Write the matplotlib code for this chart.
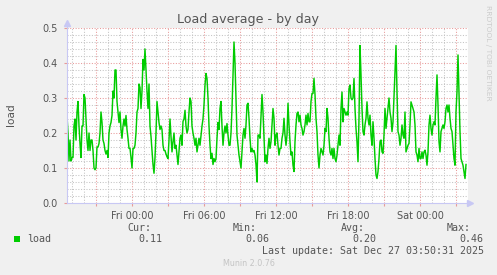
import matplotlib
matplotlib.use("Agg")
import matplotlib.pyplot as plt
import matplotlib.dates as mdates
from matplotlib.ticker import MultipleLocator
from matplotlib.patches import Rectangle
import pandas as pd
import numpy as np

# ---------------- data ----------------
series_name = "load"
start_time = "2025-12-25 18:35"
step = "5min"
load = [
    0.25,0.20,0.12,0.18,0.12,0.13,0.13,0.22,0.24,0.18,
    0.26,0.29,0.22,0.17,0.13,0.22,0.22,0.31,0.30,0.24,
    0.18,0.15,0.20,0.15,0.18,0.18,0.15,0.10,0.095,0.10,
    0.16,0.16,0.17,0.20,0.26,0.23,0.18,0.17,0.15,0.14,
    0.15,0.13,0.20,0.22,0.23,0.25,0.32,0.30,0.38,0.38,
    0.29,0.26,0.23,0.26,0.21,0.185,0.22,0.24,0.22,0.25,
    0.21,0.185,0.156,0.156,0.13,0.10,0.156,0.156,0.165,0.20,
    0.26,0.27,0.34,0.33,0.27,0.32,0.41,0.38,0.44,0.38,
    0.32,0.27,0.34,0.22,0.19,0.15,0.11,0.085,0.13,0.20,
    0.29,0.26,0.23,0.21,0.22,0.21,0.165,0.15,0.15,0.14,
    0.132,0.127,0.18,0.24,0.19,0.146,0.175,0.20,0.156,0.165,
    0.137,0.11,0.146,0.185,0.194,0.165,0.233,0.24,0.265,0.22,
    0.20,0.21,0.26,0.30,0.29,0.22,0.20,0.185,0.165,0.185,
    0.146,0.165,0.185,0.165,0.194,0.22,0.24,0.28,0.337,0.37,
    0.356,0.30,0.22,0.165,0.127,0.142,0.11,0.127,0.118,0.127,
    0.185,0.23,0.21,0.27,0.29,0.22,0.165,0.20,0.22,0.20,
    0.227,0.194,0.165,0.165,0.20,0.27,0.366,0.46,0.40,0.30,
    0.194,0.165,0.137,0.118,0.10,0.146,0.194,0.213,0.185,0.223,
    0.28,0.285,0.242,0.185,0.146,0.156,0.146,0.15,0.137,0.11,
    0.06,0.194,0.194,0.185,0.25,0.31,0.26,0.185,0.118,0.137,
    0.113,0.156,0.185,0.156,0.175,0.22,0.27,0.242,0.165,0.194,
    0.20,0.165,0.137,0.156,0.156,0.185,0.20,0.242,0.194,0.165,
    0.194,0.285,0.223,0.175,0.137,0.146,0.108,0.09,0.175,0.223,
    0.256,0.26,0.232,0.251,0.223,0.213,0.194,0.204,0.223,0.251,
    0.223,0.256,0.232,0.232,0.29,0.313,0.313,0.356,0.31,0.242,
    0.204,0.137,0.10,0.137,0.156,0.146,0.137,0.165,0.213,0.204,
    0.27,0.242,0.185,0.146,0.137,0.156,0.127,0.156,0.127,0.118,
    0.137,0.165,0.194,0.165,0.27,0.317,0.232,0.27,0.26,0.251,
    0.26,0.251,0.327,0.337,0.30,0.295,0.30,0.356,0.27,0.213,
    0.175,0.118,0.242,0.45,0.366,0.27,0.204,0.194,0.223,0.242,
    0.289,0.242,0.223,0.251,0.194,0.165,0.232,0.185,0.127,0.08,
    0.07,0.09,0.127,0.175,0.18,0.146,0.142,0.194,0.27,0.213,
    0.242,0.27,0.30,0.26,0.242,0.204,0.232,0.30,0.375,0.45,
    0.318,0.204,0.194,0.165,0.185,0.223,0.194,0.185,0.26,0.146,
    0.156,0.165,0.17,0.223,0.289,0.28,0.27,0.26,0.223,0.146,
    0.137,0.118,0.156,0.127,0.127,0.146,0.127,0.146,0.151,0.137,
    0.108,0.146,0.223,0.251,0.213,0.194,0.223,0.232,0.223,0.30,
    0.366,0.28,0.175,0.146,0.204,0.213,0.223,0.213,0.232,0.27,
    0.28,0.26,0.28,0.242,0.213,0.204,0.165,0.127,0.108,0.26,
    0.318,0.423,0.318,0.204,0.127,0.118,0.108,0.09,0.07,0.11,
]
x_start = "2025-12-25 18:35"
x_end = "2025-12-27 04:00"
major_tick_times = ["2025-12-25 21:00", "2025-12-26 00:00", "2025-12-26 03:00",
                    "2025-12-26 06:00", "2025-12-26 09:00", "2025-12-26 12:00",
                    "2025-12-26 15:00", "2025-12-26 18:00", "2025-12-26 21:00",
                    "2025-12-27 00:00", "2025-12-27 03:00"]
tick_labels = ["", "Fri 00:00", "", "Fri 06:00", "", "Fri 12:00", "",
               "Fri 18:00", "", "Sat 00:00", ""]
y_ticks = [0.0, 0.1, 0.2, 0.3, 0.4, 0.5]
y_tick_labels = ["0.0", "0.1", "0.2", "0.3", "0.4", "0.5"]
stat_labels = ["Cur:", "Min:", "Avg:", "Max:"]
stat_values = ["0.11", "0.06", "0.20", "0.46"]
title = "Load average - by day"
ylabel = "load"
last_update = "Last update: Sat Dec 27 03:50:31 2025"
footer = "Munin 2.0.76"
watermark = "RRDTOOL / TOBI OETIKER"

# ---------------- figure ----------------
W, H = 497, 275
fig = plt.figure(figsize=(W / 100, H / 100), dpi=100)
fig.patch.set_facecolor("#F0F0F0")

L, R, T, B = 67, 468, 28, 203
ax = fig.add_axes([L / W, 1 - B / H, (R - L) / W, (B - T) / H])
ax.set_facecolor("white")

times = pd.date_range(start_time, periods=len(load), freq=step)
ax.plot(times, load, color="#00CC00", lw=1.05, zorder=3)

ax.set_xlim(pd.Timestamp(x_start), pd.Timestamp(x_end))
ax.set_ylim(0, 0.5)

ax.set_xticks(pd.to_datetime(major_tick_times))
ax.set_xticklabels(tick_labels)
ax.xaxis.set_minor_locator(mdates.HourLocator())
ax.set_yticks(y_ticks)
ax.set_yticklabels(y_tick_labels)
ax.yaxis.set_minor_locator(MultipleLocator(0.02))

major_c = "#E89A9A"
minor_c = "#C4C4C4"
ax.grid(which="minor", color=minor_c, lw=0.75, linestyle=(0, (1, 1.6)), zorder=1)
ax.grid(which="major", color=major_c, lw=0.75, linestyle=(0, (1, 1.6)), zorder=2)
ax.set_axisbelow(True)

ax.tick_params(which="major", length=2, color=major_c, labelsize=7,
               labelcolor="#555555", pad=4)
ax.tick_params(which="minor", length=0)
ax.tick_params(axis="y", pad=5)

for s in ["top", "right"]:
    ax.spines[s].set_visible(False)
axis_c = "#C8C8F4"
for s in ["left", "bottom"]:
    ax.spines[s].set_color(axis_c)
    ax.spines[s].set_linewidth(0.8)
    ax.spines[s].set_zorder(4)

# axis arrows
ax.plot([0, 0], [1.0, 1.025], transform=ax.transAxes, color=axis_c, lw=0.8, clip_on=False)
ax.plot([0], [1.03], marker="^", ms=4, color=axis_c, transform=ax.transAxes, clip_on=False)
ax.plot([1.0, 1.004], [0, 0], transform=ax.transAxes, color=axis_c, lw=0.8, clip_on=False)
ax.plot([1.006], [0], marker=">", ms=4, color=axis_c, transform=ax.transAxes, clip_on=False)

def fx(px):
    return px / W

def fy(py):
    return 1 - py / H

fig.text(fx(248), fy(19), title, ha="center", va="center", fontsize=9.1, color="#555555")
fig.text(fx(11), fy(115), ylabel, ha="center", va="center", rotation=90,
         fontsize=7.6, color="#555555")
fig.text(fx(488), fy(5), watermark, ha="center", va="top", rotation=270,
         fontsize=5.4, color="#CCCCCC")

mono = "DejaVu Sans Mono"
tc = "#555555"
fig.patches.append(Rectangle((fx(14), fy(242)), 6 / W, 6 / H, transform=fig.transFigure,
                             facecolor="#00CC00", edgecolor="none"))
fig.text(fx(27), fy(239.5), series_name, ha="left", va="center", family=mono, fontsize=7.2, color=tc)

label_x = [127, 233, 341, 447]
value_x = [138, 245, 352, 459]
for lx, vx, lab, val in zip(label_x, value_x, stat_labels, stat_values):
    fig.text(fx(lx), fy(228), lab, ha="left", va="center", family=mono, fontsize=7.2, color=tc)
    fig.text(fx(vx), fy(239.5), val, ha="left", va="center", family=mono, fontsize=7.2, color=tc)

fig.text(fx(262), fy(251), last_update, ha="left", va="center", family=mono, fontsize=7.2, color=tc)
fig.text(fx(223), fy(264), footer, ha="left", va="center", fontsize=5.8, color="#C4C4C4")

fig.savefig("out.png", dpi=100, facecolor=fig.get_facecolor())
